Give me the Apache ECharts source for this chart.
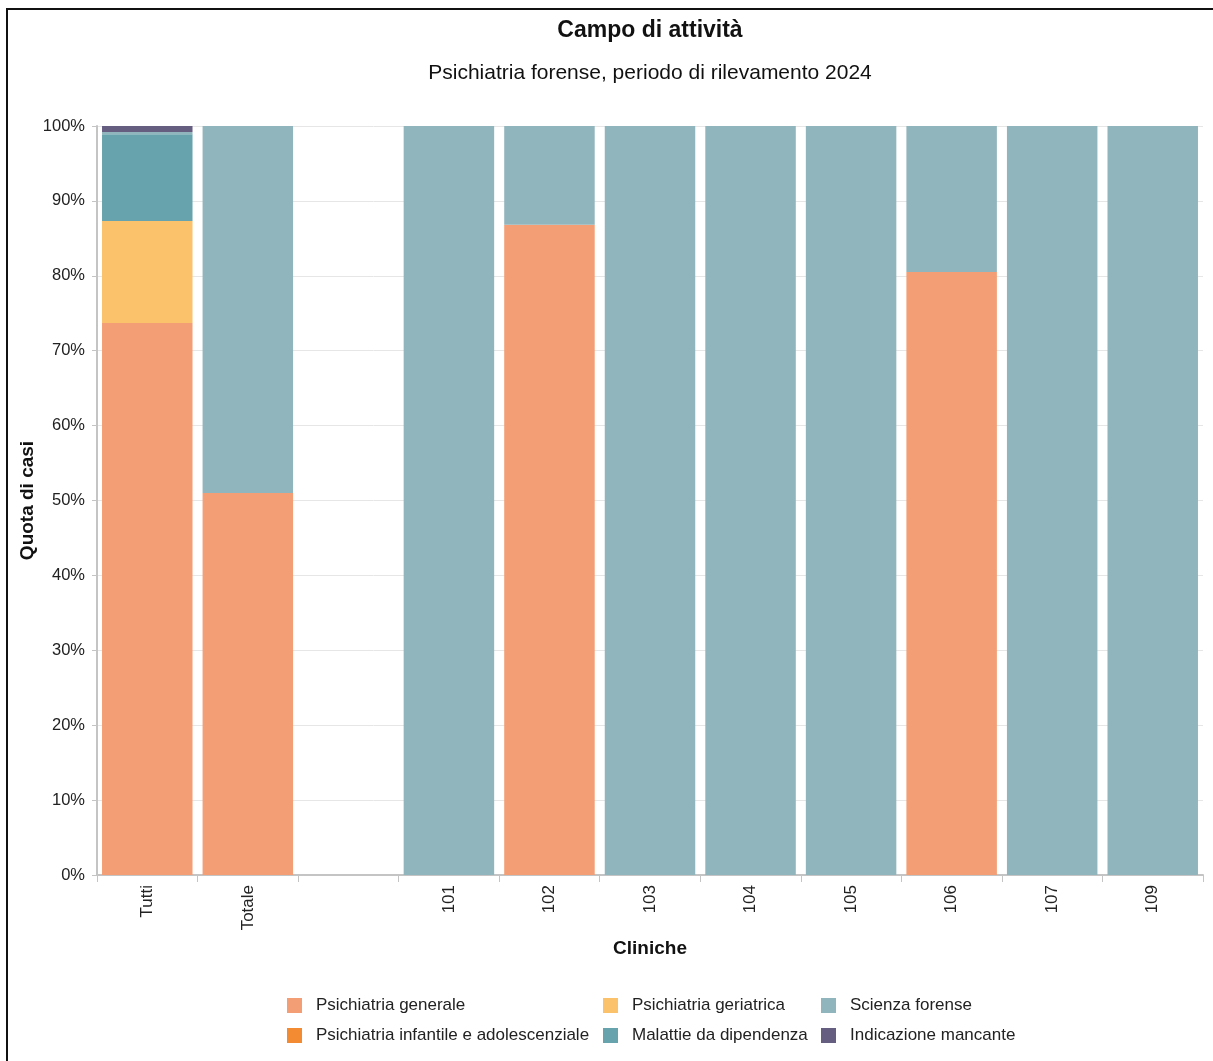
<!DOCTYPE html>
<html>
<head>
<meta charset="utf-8">
<script src="https://cdn.jsdelivr.net/npm/echarts@6/dist/echarts.min.js"></script>
<style>
html,body{margin:0;padding:0;background:#fff;}
#chart{width:1213px;height:1061px;}
</style>
</head>
<body>
<div id="chart"></div>
<script>
const categories = ['Tutti', 'Totale', '', '101', '102', '103', '104', '105', '106', '107', '109'];
const seriesNames = ['Psichiatria generale', 'Psichiatria infantile e adolescenziale', 'Psichiatria geriatrica', 'Malattie da dipendenza', 'Scienza forense', 'Indicazione mancante'];
const generale =   [73.7, 51.0, null, 0, 86.8, 0, 0, 0, 80.5, 0, 0];
const infantile =  [0, 0, null, 0, 0, 0, 0, 0, 0, 0, 0];
const geriatrica = [13.6, 0, null, 0, 0, 0, 0, 0, 0, 0, 0];
const dipendenza = [11.6, 0, null, 0, 0, 0, 0, 0, 0, 0, 0];
const forense =    [0.3, 49.0, null, 100, 13.2, 100, 100, 100, 19.5, 100, 100];
const mancante =   [0.8, 0, null, 0, 0, 0, 0, 0, 0, 0, 0];
const yTicks = [0, 10, 20, 30, 40, 50, 60, 70, 80, 90, 100];
const colors = ['#F39E74', '#F28B31', '#FBC16B', '#67A3AD', '#91B5BC', '#665E80'];

const values = [generale, infantile, geriatrica, dipendenza, forense, mancante];
const font = 'Liberation Sans, Arial, sans-serif';

const chart = echarts.init(document.getElementById('chart'));
const series = seriesNames.map((n, i) => ({
  name: n,
  type: 'bar',
  stack: 'total',
  data: values[i],
  barCategoryGap: '10%',
  itemStyle: { color: colors[i] },
  emphasis: { disabled: true }
}));

function legendCol(x, names) {
  return {
    orient: 'vertical',
    left: x,
    top: 992,
    itemGap: 13,
    itemWidth: 15,
    itemHeight: 15,
    icon: 'rect',
    textStyle: { fontSize: 17, color: '#222', fontFamily: font, padding: [0, 0, 0, 9] },
    data: names,
    selectedMode: false
  };
}

chart.setOption({
  animation: false,
  color: colors,
  textStyle: { fontFamily: font },
  grid: { left: 97, right: 10, top: 126, bottom: 186, containLabel: false },
  graphic: [
    { type: 'rect', shape: { x: 7, y: 9, width: 1300, height: 1200 }, style: { fill: 'none', stroke: '#111', lineWidth: 2 }, silent: true },
    { type: 'text', x: 650, y: 31, style: { text: 'Campo di attività', font: 'bold 23px ' + font, fill: '#111', textAlign: 'center', textVerticalAlign: 'middle' } },
    { type: 'text', x: 650, y: 73, style: { text: 'Psichiatria forense, periodo di rilevamento 2024', font: '21px ' + font, fill: '#111', textAlign: 'center', textVerticalAlign: 'middle' } }
  ],
  legend: [
    legendCol(282, [seriesNames[0], seriesNames[1]]),
    legendCol(598, [seriesNames[2], seriesNames[3]]),
    legendCol(816, [seriesNames[4], seriesNames[5]])
  ],
  xAxis: {
    type: 'category',
    data: categories,
    name: 'Cliniche',
    nameLocation: 'middle',
    nameGap: 64,
    nameMoveOverlap: false,
    nameTextStyle: { fontSize: 19, fontWeight: 'bold', color: '#111' },
    axisLine: { lineStyle: { color: '#c4c4c4', width: 2 } },
    axisTick: { show: true, length: 7, lineStyle: { color: '#c4c4c4' } },
    axisLabel: { rotate: 90, fontSize: 17, color: '#222', margin: 10, interval: 0 }
  },
  yAxis: {
    type: 'value',
    min: 0,
    max: 100,
    interval: 10,
    name: 'Quota di casi',
    nameLocation: 'middle',
    nameGap: 60,
    nameMoveOverlap: false,
    nameTextStyle: { fontSize: 19, fontWeight: 'bold', color: '#111' },
    axisLine: { show: true, lineStyle: { color: '#c4c4c4', width: 2 } },
    axisTick: { show: true, length: 5, lineStyle: { color: '#c4c4c4' } },
    splitLine: { lineStyle: { color: '#e6e6e6' } },
    axisLabel: {
      fontSize: 16.5, color: '#222', margin: 12,
      formatter: v => (yTicks.indexOf(v) >= 0 ? v + '%' : '')
    }
  },
  series: series
});
</script>
</body>
</html>
